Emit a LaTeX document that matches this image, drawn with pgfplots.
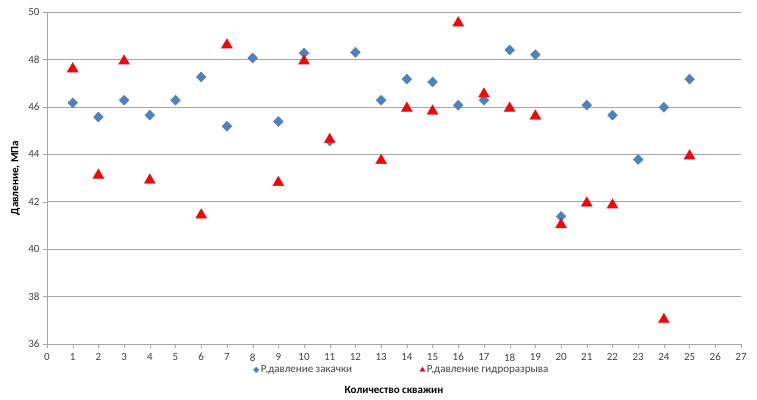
\documentclass[border=0pt]{standalone}
\usepackage{pgfplots}
\pgfplotsset{compat=1.18}
\usepackage{fontspec}
\setmainfont{Carlito}
\definecolor{blueS}{RGB}{79,129,189}
\definecolor{gridc}{RGB}{165,165,165}
\definecolor{txt}{RGB}{64,64,64}
\begin{document}
\begin{tikzpicture}
\begin{axis}[
  scale only axis,
  width=694pt, height=332pt,
  xmin=0, xmax=27, ymin=36, ymax=50,
  xtick={0,1,...,27}, ytick={36,38,...,50},
  axis x line=bottom, axis y line=left,
  axis line style={gridc,-},
  ymajorgrids, grid style={gridc, line width=0.6pt},
  tick style={gridc},
  major tick length=4pt,
  tick align=outside,
  ticklabel style={font=\fontsize{11}{12}\selectfont, text=txt},
  /pgf/number format/assume math mode=true,
  xticklabel style={yshift=-2pt},
  xlabel={\bfseries Количество скважин},
  xlabel style={at={(axis description cs:0.5,-0.139)}, anchor=center, font=\fontsize{11}{12}\selectfont, text=black},
  ylabel={\bfseries Давление, МПа},
  ylabel style={at={(axis description cs:-0.045,0.5)}, anchor=center, font=\fontsize{11}{12}\selectfont, text=black},
  legend columns=2,
  legend style={at={(axis description cs:0.5115,-0.078)}, anchor=center, draw=none, fill=none,
    font=\fontsize{11}{12}\selectfont, text=txt, /tikz/every even column/.append style={column sep=66pt}},
  legend image code/.code={\draw[#1, mark size=2.8pt] plot coordinates {(0pt,0pt)};},
]
\addplot[only marks, mark=diamond*, mark size=5pt, mark options={xscale=1.3, fill=blueS, draw=blueS}] coordinates {
(1,46.17) (2,45.57) (3,46.28) (4,45.65) (5,46.28) (6,47.26) (7,45.18) (8,48.06) (9,45.38)
(10,48.27) (11,44.56) (12,48.30) (13,46.28) (14,47.17) (15,47.05) (16,46.07) (17,46.28)
(18,48.40) (19,48.20) (20,41.38) (21,46.07) (22,45.65) (23,43.78) (24,45.98) (25,47.17)
};
\addlegendentry{Р,давление закачки}
\addplot[only marks, mark=triangle*, mark size=6.3pt, mark options={fill=red, draw=red!75!blueS, line width=0.4pt}] coordinates {
(1,47.60) (2,43.12) (3,47.93) (4,42.91) (6,41.44) (7,48.61) (9,42.81) (10,47.93) (11,44.62)
(13,43.74) (14,45.94) (15,45.82) (16,49.54) (17,46.54) (18,45.94) (19,45.61) (20,41.03)
(21,41.94) (22,41.86) (24,37.03) (25,43.93)
};
\addlegendentry{Р,давление гидроразрыва}
\end{axis}
\path (current axis.south west) ++(-47pt,-55pt) coordinate (bbA);
\path (current axis.north east) ++(16pt,12pt) coordinate (bbB);
\useasboundingbox (bbA) rectangle (bbB);
\end{tikzpicture}
\end{document}
